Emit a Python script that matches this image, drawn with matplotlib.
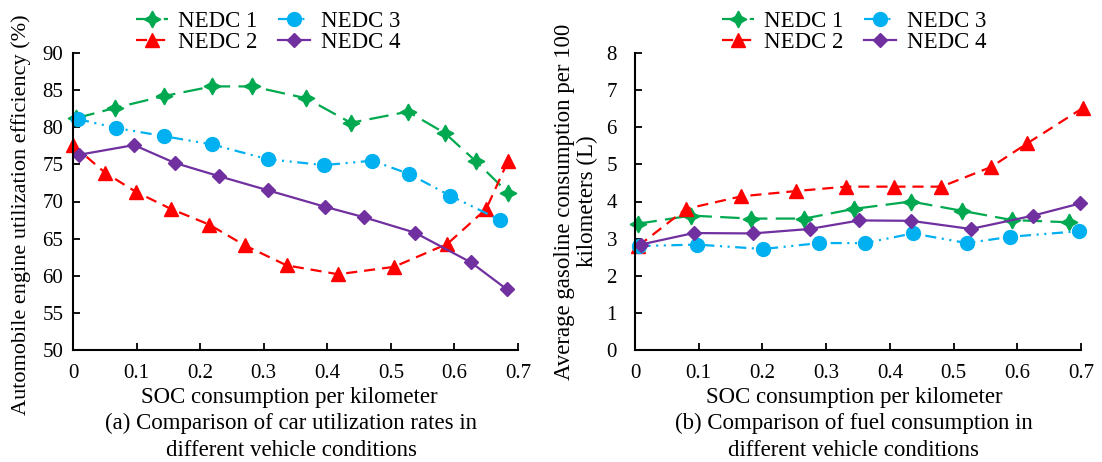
import numpy as np
import matplotlib
matplotlib.use("Agg")
import matplotlib.pyplot as plt

plt.rcParams['font.family'] = ['Liberation Serif', 'DejaVu Serif']
plt.rcParams['lines.scale_dashes'] = False

# ---- (a) engine utilization efficiency ----
a_x1 = [0.004, 0.066, 0.143, 0.219, 0.282, 0.367, 0.437, 0.527, 0.585, 0.634, 0.684]
a_y1 = [81.2, 82.6, 84.2, 85.5, 85.5, 83.9, 80.6, 82.1, 79.2, 75.4, 71.2]
a_x2 = [0.0, 0.050, 0.099, 0.154, 0.214, 0.270, 0.336, 0.417, 0.505, 0.589, 0.650, 0.684]
a_y2 = [77.6, 73.9, 71.3, 69.0, 66.9, 64.1, 61.4, 60.2, 61.2, 64.3, 69.0, 75.4]
a_x3 = [0.008, 0.068, 0.143, 0.218, 0.306, 0.395, 0.471, 0.529, 0.593, 0.672]
a_y3 = [81.1, 79.9, 78.8, 77.7, 75.7, 74.9, 75.5, 73.7, 70.8, 67.5]
a_x4 = [0.010, 0.096, 0.160, 0.230, 0.307, 0.396, 0.457, 0.538, 0.626, 0.682]
a_y4 = [76.3, 77.6, 75.2, 73.4, 71.5, 69.3, 67.9, 65.8, 61.8, 58.2]

# ---- (b) fuel consumption ----
b_x1 = [0.004, 0.088, 0.182, 0.266, 0.343, 0.433, 0.513, 0.592, 0.681]
b_y1 = [3.40, 3.62, 3.54, 3.54, 3.80, 4.00, 3.75, 3.50, 3.44]
b_x2 = [0.005, 0.080, 0.167, 0.252, 0.331, 0.407, 0.481, 0.559, 0.616, 0.703]
b_y2 = [2.80, 3.80, 4.14, 4.28, 4.40, 4.40, 4.40, 4.93, 5.57, 6.52]
b_x3 = [0.007, 0.097, 0.201, 0.289, 0.361, 0.436, 0.521, 0.589, 0.697]
b_y3 = [2.80, 2.84, 2.72, 2.88, 2.88, 3.14, 2.88, 3.05, 3.20]
b_x4 = [0.009, 0.092, 0.185, 0.274, 0.352, 0.433, 0.527, 0.625, 0.699]
b_y4 = [2.84, 3.15, 3.14, 3.26, 3.49, 3.48, 3.26, 3.62, 3.95]

labels = ['NEDC 1', 'NEDC 2', 'NEDC 3', 'NEDC 4']
colors = ['#00A94F', '#FF0000', '#00B0F0', '#7030A0']
styles = [dict(marker=(4, 1, 0), ms=12, ls=(0, (14, 6))),
          dict(marker='^', ms=10, ls=(0, (8, 5))),
          dict(marker='o', ms=10, ls=(0, (8, 4, 1.5, 4, 1.5, 4))),
          dict(marker='D', ms=7.5, ls='-')]

FS = 16.5

fig = plt.figure(figsize=(11.02, 4.62), dpi=100)
ax1 = fig.add_axes([73/1102, 1-350/462, 445/1102, 297/462])
ax2 = fig.add_axes([635/1102, 1-350/462, 446/1102, 297/462])

def draw(ax, xs, ys):
    hs = []
    for x, y, lab, c, st in zip(xs, ys, labels, colors, styles):
        h, = ax.plot(x, y, color=c, lw=1.6, marker=st['marker'], ms=st['ms'],
                     ls=st['ls'], markeredgecolor=c, label=lab, clip_on=False)
        hs.append(h)
    ax.spines['top'].set_visible(False)
    ax.spines['right'].set_visible(False)
    ax.spines['left'].set_linewidth(1.5)
    ax.spines['bottom'].set_linewidth(1.5)
    ax.tick_params(direction='in', length=5, width=1.3, labelsize=15)
    ax.set_xlim(0, 0.7)
    ax.set_xticks([0, 0.1, 0.2, 0.3, 0.4, 0.5, 0.6, 0.7])
    ax.set_xticklabels(['0', '0.1', '0.2', '0.3', '0.4', '0.5', '0.6', '0.7'])
    ax.tick_params(axis='x', pad=10)
    return hs

def legend(hs, cx):
    fig.legend(hs, labels, loc='center', bbox_to_anchor=(cx/1102, 1-32/462), ncol=2,
               frameon=False, fontsize=FS, handlelength=1.4, columnspacing=0.9,
               labelspacing=0.0, handletextpad=0.45)

hs = draw(ax1, [a_x1, a_x2, a_x3, a_x4], [a_y1, a_y2, a_y3, a_y4])
ax1.set_ylim(50, 90)
ax1.set_yticks(range(50, 91, 5))
ax1.tick_params(axis='y', pad=7)
ax1.set_ylabel('Automobile engine utilization efficiency (%)', fontsize=16)
ax1.yaxis.set_label_coords(-0.094, 0.455)
legend(hs, 268)

hs = draw(ax2, [b_x1, b_x2, b_x3, b_x4], [b_y1, b_y2, b_y3, b_y4])
ax2.set_ylim(0, 8)
ax2.set_yticks(range(0, 9))
ax2.tick_params(axis='y', pad=13)
ax2.set_ylabel('Average gasoline consumption per 100\nkilometers (L)', fontsize=FS, labelpad=6,
               linespacing=1.15)
legend(hs, 854)

fig.text(289/1102, 1-397/462, 'SOC consumption per kilometer', ha='center', va='center', fontsize=FS)
fig.text(291/1102, 1-423/462, '(a) Comparison of car utilization rates in', ha='center', va='center', fontsize=FS)
fig.text(291/1102, 1-450/462, 'different vehicle conditions', ha='center', va='center', fontsize=FS)
fig.text(854/1102, 1-397/462, 'SOC consumption per kilometer', ha='center', va='center', fontsize=FS)
fig.text(854/1102, 1-423/462, '(b) Comparison of fuel consumption in', ha='center', va='center', fontsize=FS)
fig.text(854/1102, 1-450/462, 'different vehicle conditions', ha='center', va='center', fontsize=FS)

fig.savefig('out.png', dpi=100)
